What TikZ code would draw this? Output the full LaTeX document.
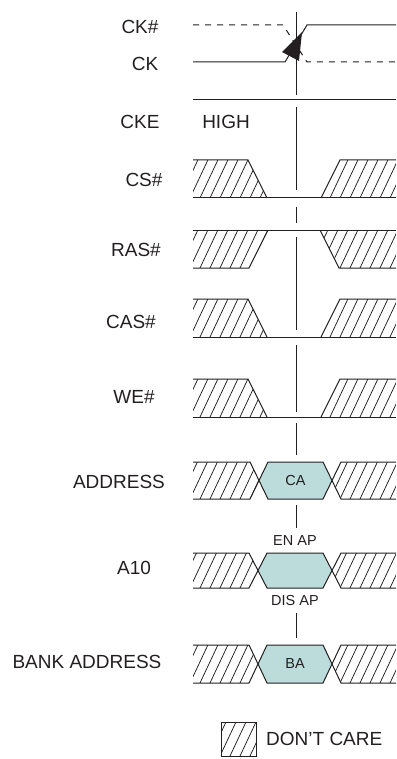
\documentclass[tikz,border=0pt]{standalone}
\usepackage{fontspec}
\setmainfont{Liberation Sans}
\definecolor{txt}{RGB}{35,31,32}
\definecolor{busfill}{RGB}{188,220,220}
\newcommand{\hatchin}[3]{\begin{scope}\clip #1;\foreach \hx in {150,160,...,410}{\draw[hatchline] (\hx,#3) -- ++({0.47*(#3-#2)},{-(#3-#2)});}\end{scope}}
\begin{document}
\begin{tikzpicture}[x=1pt,y=-1pt,
  sig/.style={line width=1pt, draw=txt, line join=miter},
  hatchline/.style={line width=0.75pt, draw=txt},
  vline/.style={line width=1pt, draw=txt},
  lbl/.style={font=\fontsize{19}{21}\selectfont, text=txt, inner sep=0pt},
  small/.style={font=\fontsize{14.5}{16}\selectfont, text=txt, inner sep=0pt},
  bus/.style={sig, fill=busfill}]
\useasboundingbox (0,0) rectangle (396,759);
% labels
\node[lbl] (lckn) at (140,27) {CK\#};
\node[lbl] (lck) at (145,64) {CK};
\node[lbl] (lcke) at (140,122) {CKE};
\node[lbl] (lhigh) at (226,122) {HIGH};
\node[lbl] (lcs) at (144,180) {CS\#};
\node[lbl] (lras) at (136,250) {RAS\#};
\node[lbl] (lcas) at (131,322) {CAS\#};
\node[lbl] (lwe) at (134,397) {WE\#};
\node[lbl] (laddr) at (119,482) {ADDRESS};
\node[lbl] (la10) at (134,568) {A10};
\node[lbl] (lba) at (87,662) {BANK ADDRESS};
% vertical reference line
\foreach \a/\b in {12/95,107/190,207/223,237/330,345/412,423/455,505/528,613/638}
  \draw[vline] (296,\a) -- (296,\b);
% CK# and CK
\draw[sig, dash pattern=on 6pt off 6pt] (193,25) -- (283,25) -- (307,62) -- (396,62);
\draw[sig] (193,62) -- (285,62) -- (307,25) -- (396,25);
\fill[txt] (302,32) -- (282,52) -- (299,61) -- cycle;
% CKE
\draw[sig] (193,100) -- (396,100);
% CS#
\hatchin{(193,160) -- (248,160) -- (267,198) -- (193,198) -- cycle}{160}{198}
\hatchin{(321,198) -- (340,160) -- (396,160) -- (396,198) -- cycle}{160}{198}
\draw[sig] (193,160) -- (248,160) -- (267,198);
\draw[sig] (193,198) -- (396,198);
\draw[sig] (321,198) -- (340,160) -- (396,160);
% RAS#
\hatchin{(193,230) -- (268,230) -- (249,268) -- (193,268) -- cycle}{230}{268}
\hatchin{(320,230) -- (339,268) -- (396,268) -- (396,230) -- cycle}{230}{268}
\draw[sig] (193,230) -- (396,230);
\draw[sig] (268,230) -- (249,268) -- (193,268);
\draw[sig] (320,230) -- (339,268) -- (396,268);
% CAS#
\hatchin{(193,299) -- (248,299) -- (267,337) -- (193,337) -- cycle}{299}{337}
\hatchin{(321,337) -- (340,299) -- (396,299) -- (396,337) -- cycle}{299}{337}
\draw[sig] (193,299) -- (248,299) -- (267,337);
\draw[sig] (193,337) -- (396,337);
\draw[sig] (321,337) -- (340,299) -- (396,299);
% WE#
\hatchin{(193,379) -- (248,379) -- (267,417) -- (193,417) -- cycle}{379}{417}
\hatchin{(321,417) -- (340,379) -- (396,379) -- (396,417) -- cycle}{379}{417}
\draw[sig] (193,379) -- (248,379) -- (267,417);
\draw[sig] (193,417) -- (396,417);
\draw[sig] (321,417) -- (340,379) -- (396,379);
% ADDRESS
\hatchin{(193,462) -- (250,462) -- (259,480.5) -- (250,499) -- (193,499) -- cycle}{462}{499}
\hatchin{(332,480.5) -- (341,462) -- (396,462) -- (396,499) -- (341,499) -- cycle}{462}{499}
\draw[sig] (193,462) -- (250,462) -- (259,480.5) -- (250,499) -- (193,499);
\draw[sig] (396,462) -- (341,462) -- (332,480.5) -- (341,499) -- (396,499);
\draw[bus] (259,480.5) -- (268,462) -- (323,462) -- (332,480.5) -- (323,499) -- (268,499) -- cycle;
\node[small] (ca) at (295.5,480.5) {CA};
% A10
\hatchin{(193,553) -- (249,553) -- (258,570.5) -- (249,588) -- (193,588) -- cycle}{553}{588}
\hatchin{(332,570.5) -- (341,553) -- (396,553) -- (396,588) -- (341,588) -- cycle}{553}{588}
\draw[sig] (193,553) -- (249,553) -- (258,570.5) -- (249,588) -- (193,588);
\draw[sig] (396,553) -- (341,553) -- (332,570.5) -- (341,588) -- (396,588);
\draw[bus] (258,570.5) -- (267,553) -- (323,553) -- (332,570.5) -- (323,588) -- (267,588) -- cycle;
\node[small] (enap) at (295,541) {EN AP};
\node[small] (disap) at (295,601) {DIS AP};
% BANK ADDRESS
\hatchin{(193,645) -- (249,645) -- (258,664) -- (249,683) -- (193,683) -- cycle}{645}{683}
\hatchin{(332,664) -- (341,645) -- (396,645) -- (396,683) -- (341,683) -- cycle}{645}{683}
\draw[sig] (193,645) -- (249,645) -- (258,664) -- (249,683) -- (193,683);
\draw[sig] (396,645) -- (341,645) -- (332,664) -- (341,683) -- (396,683);
\draw[bus] (258,664) -- (267,645) -- (323,645) -- (332,664) -- (323,683) -- (267,683) -- cycle;
\node[small] (ba) at (295,664) {BA};
% legend
\hatchin{(221,722) rectangle (256,756)}{722}{756}
\draw[hatchline] (221,722) rectangle (256,756);
\node[lbl, anchor=west] (ldc) at (266,739) {DON'T CARE};
\end{tikzpicture}
\end{document}
